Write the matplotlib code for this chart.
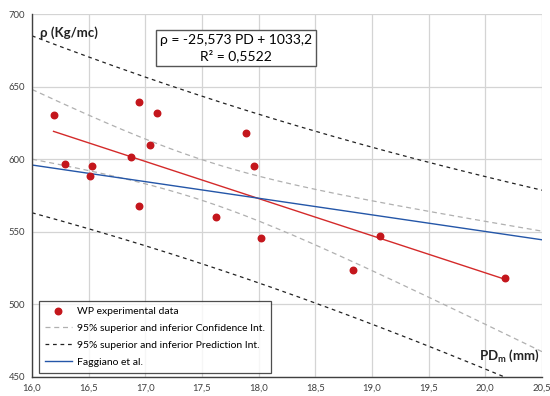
"""WP density vs PD_m with OLS fit, 95% confidence and prediction bands."""

import matplotlib
matplotlib.use("Agg")
import matplotlib.pyplot as plt
import numpy as np
from matplotlib.ticker import FuncFormatter

plt.rcParams["font.family"] = ["Lato", "DejaVu Sans"]

# experimental points
pd_mm = [16.19, 16.29, 16.51, 16.53, 16.87, 16.94, 16.94, 17.04,
         17.10, 17.62, 17.89, 17.96, 18.02, 18.83, 19.07, 20.17]
rho = [630.6, 597.0, 588.7, 595.6, 601.8, 639.6, 568.1, 610.0,
       632.0, 560.0, 618.0, 595.6, 545.5, 524.0, 546.8, 518.0]

# trend reported on the chart
slope, intercept = -25.573, 1033.2
t_975 = 2.145  # Student t, 14 dof

# Faggiano et al. reference line
fag_x = [16.0, 20.5]
fag_y = [596.0, 544.5]

x = np.array(pd_mm)
y = np.array(rho)
n = len(x)
resid = y - (intercept + slope * x)
s = np.sqrt(np.sum(resid ** 2) / (n - 2))
sxx = np.sum((x - x.mean()) ** 2)

xg = np.linspace(16.0, 20.5, 200)
yg = intercept + slope * xg
ci = t_975 * s * np.sqrt(1 / n + (xg - x.mean()) ** 2 / sxx)
pi = t_975 * s * np.sqrt(1 + 1 / n + (xg - x.mean()) ** 2 / sxx)

fig = plt.figure(figsize=(5.5, 3.96), dpi=100)
ax = fig.add_axes([32 / 550, 1 - 377 / 396, 510 / 550, 363 / 396])

grey = "#b0b0b0"
ax.plot(xg, yg + ci, color=grey, lw=0.9, ls=(0, (4, 3)))
ax.plot(xg, yg - ci, color=grey, lw=0.9, ls=(0, (4, 3)),
        label="95% superior and inferior Confidence Int.")
ax.plot(xg, yg + pi, color="#222222", lw=0.9, ls=(0, (3, 3)))
ax.plot(xg, yg - pi, color="#222222", lw=0.9, ls=(0, (3, 3)),
        label="95% superior and inferior Prediction Int.")
xf = np.array([x.min(), x.max()])
ax.plot(xf, intercept + slope * xf, color="#d42a2a", lw=1.0)
ax.plot(fag_x, fag_y, color="#2456a8", lw=1.0, label="Faggiano et al.")
ax.scatter(x, y, s=22, color="#c4161c", zorder=5, label="WP experimental data")

ax.set_xlim(16.0, 20.5)
ax.set_ylim(450, 700)
ax.set_xticks(np.arange(16.0, 20.51, 0.5))
ax.set_yticks(np.arange(450, 701, 50))
ax.xaxis.set_major_formatter(FuncFormatter(lambda v, p: f"{v:.1f}".replace(".", ",")))
ax.grid(True, color="#d4d4d4", lw=0.9)
ax.set_axisbelow(True)
for side in ("top", "right"):
    ax.spines[side].set_visible(False)
for side in ("left", "bottom"):
    ax.spines[side].set_color("#404040")
    ax.spines[side].set_linewidth(1.0)
ax.tick_params(length=0, labelsize=6.8, colors="#404040", pad=5)

ax.text(0.015, 0.965, "ρ (Kg/mc)", transform=ax.transAxes, fontsize=9.5,
        fontweight="bold", va="top", ha="left", color="#222222")
ax.text(0.995, 0.035, r"PD$_\mathregular{m}$ (mm)", transform=ax.transAxes,
        fontsize=9.5, fontweight="bold", va="bottom", ha="right", color="#222222")

ax.text(0.4, 0.906, "ρ = -25,573 PD + 1033,2\nR² = 0,5522", transform=ax.transAxes,
        fontsize=10, ha="center", va="center", linespacing=1.25,
        bbox=dict(boxstyle="square,pad=0.3", fc="white", ec="#555555", lw=1.0))

handles, labels = ax.get_legend_handles_labels()
order = [3, 0, 1, 2]
leg = ax.legend([handles[i] for i in order], [labels[i] for i in order],
                loc="lower left", bbox_to_anchor=(0.006, 0.0), fontsize=7.5,
                frameon=True, fancybox=False, edgecolor="#222222",
                handlelength=2.6, handletextpad=0.5, borderpad=0.55,
                labelspacing=0.75, borderaxespad=0.4)
leg.get_frame().set_linewidth(0.9)

fig.savefig("out.png", dpi=100)
